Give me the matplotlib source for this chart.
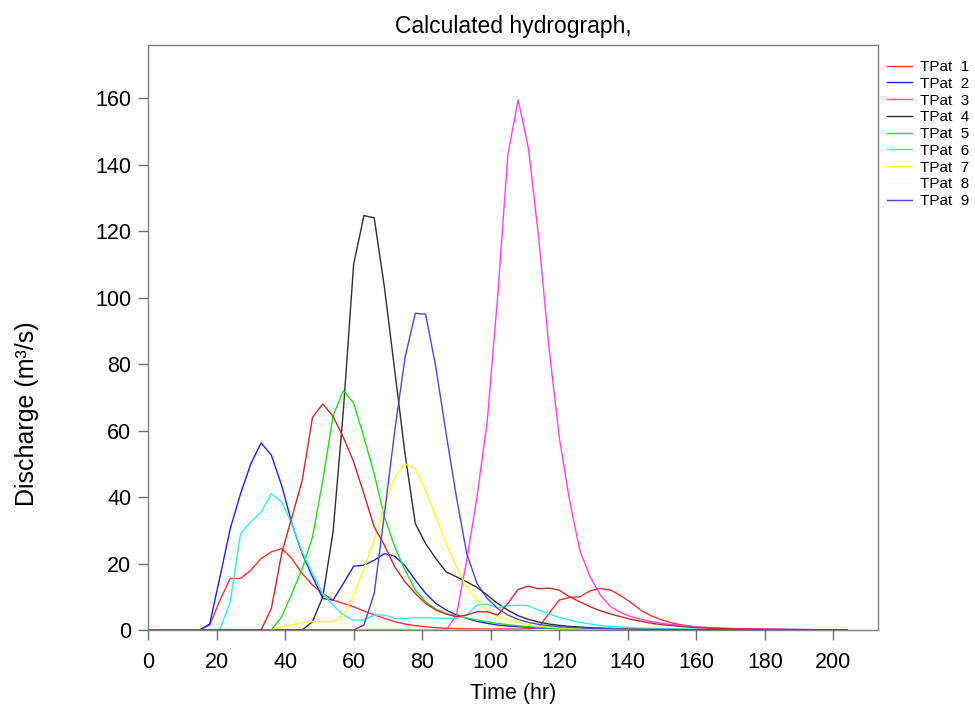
import matplotlib
matplotlib.use("Agg")
import matplotlib.pyplot as plt
import numpy as np

plt.rcParams["font.family"] = ["Liberation Sans", "DejaVu Sans"]

# time axis (hr), 3-hour step
t = np.arange(0, 205, 3)

tpat1 = [0, 0, 0, 0, 0, 0, 1.5, 9, 15.5, 15.5,
         18, 21.5, 23.5, 24.5, 21.5, 17, 13.5, 11, 9, 8,
         7, 5.7, 4.6, 3.5, 2.5, 1.8, 1.3, 1.0, 0.7, 0.5,
         0.4, 0.35, 0.3, 0.3, 0.3, 0.3, 0.3, 0.35, 0.8, 5,
         9, 9.8, 10, 11.8, 12.5, 12, 10.3, 8.2, 5.8, 4.2,
         3, 2.1, 1.5, 1.0, 0.8, 0.6, 0.5, 0.4, 0.35, 0.3,
         0.25, 0.2, 0.2, 0.15, 0.15, 0.1, 0.1, 0.1, 0.1]
tpat2 = [0, 0, 0, 0, 0, 0, 1.8, 16, 30.5, 41,
         50, 56.3, 52.6, 43.5, 32, 23, 16, 9.5, 9, 14,
         19.2, 19.5, 21, 23, 22.2, 19.3, 15, 11, 8, 6,
         4.5, 3.5, 2.6, 2, 1.5, 1.2, 1, 0.8, 0.6, 0.5,
         0.4, 0.35, 0.3, 0.25, 0.2, 0.2, 0.15, 0.15, 0.1, 0.1,
         0.1, 0.1, 0.1, 0.05, 0.05, 0.05, 0.05, 0.05, 0.05, 0.05,
         0.05, 0.05, 0.05, 0.05, 0.05, 0.05, 0.05, 0.05, 0.05]
tpat3 = [0, 0, 0, 0, 0, 0, 0, 0, 0, 0,
         0, 0, 0, 0, 0, 0, 0, 0, 0, 0,
         0, 0, 0, 0, 0, 0, 0, 0, 0, 0,
         4.5, 21, 40, 63, 100, 143, 159.5, 145, 118, 85,
         58, 39, 24, 16, 10.5, 7, 5.2, 4, 3.2, 2.5,
         2, 1.6, 1.3, 1, 0.8, 0.6, 0.5, 0.4, 0.35, 0.3,
         0.25, 0.2, 0.2, 0.15, 0.15, 0.1, 0.1, 0.1, 0.1]
tpat4 = [0, 0, 0, 0, 0, 0, 0, 0, 0, 0,
         0, 0, 0, 0, 0, 0, 2.5, 10, 29.5, 66,
         110, 124.7, 124, 103, 78, 53, 32, 26, 21.5, 17.5,
         16, 14.5, 12.8, 10.5, 8, 6, 4.3, 3.2, 2.4, 1.8,
         1.4, 1.1, 0.9, 0.7, 0.6, 0.5, 0.4, 0.35, 0.3, 0.25,
         0.2, 0.2, 0.15, 0.15, 0.1, 0.1, 0.1, 0.1, 0.05, 0.05,
         0.05, 0.05, 0.05, 0.05, 0.05, 0.05, 0.05, 0.05, 0.05]
tpat5 = [0, 0, 0, 0, 0, 0, 0, 0, 0, 0,
         0, 0, 0, 4, 11, 18.5, 28, 45, 64.5, 72,
         68.3, 58, 47, 34, 25, 18, 12, 8.5, 6.3, 5,
         4.2, 3.6, 3, 2.5, 2, 1.6, 1.3, 1, 0.8, 0.6,
         0.5, 0.4, 0.35, 0.3, 0.25, 0.2, 0.2, 0.15, 0.15, 0.1,
         0.1, 0.1, 0.1, 0.05, 0.05, 0.05, 0.05, 0.05, 0.05, 0.05,
         0.05, 0.05, 0.05, 0.05, 0.05, 0.05, 0.05, 0.05, 0.05]
tpat6 = [0, 0, 0, 0, 0, 0, 0, 0.2, 8.5, 29,
         32.5, 35.5, 41, 38.5, 32, 23.5, 17, 11, 7.5, 4.5,
         3, 3, 4.5, 4.5, 3.5, 3.5, 3.7, 3.7, 3.6, 3.5,
         3.5, 4.5, 7.5, 7.8, 6.7, 7.3, 7.5, 7.3, 6, 4.8,
         3.8, 3, 2.3, 1.8, 1.4, 1.1, 0.9, 0.7, 0.6, 0.5,
         0.4, 0.35, 0.3, 0.25, 0.2, 0.2, 0.15, 0.15, 0.1, 0.1,
         0.1, 0.1, 0.05, 0.05, 0.05, 0.05, 0.05, 0.05, 0.05]
tpat7 = [0, 0, 0, 0, 0, 0, 0, 0, 0, 0,
         0, 0, 0, 1, 1.5, 2.3, 2.5, 2.5, 2.5, 4.3,
         10.5, 18.5, 27, 37.5, 46, 50, 48.5, 42, 34, 26,
         19, 13, 9, 6, 4, 3, 2.2, 1.6, 1.2, 0.9,
         0.7, 0.55, 0.45, 0.35, 0.3, 0.25, 0.2, 0.2, 0.15, 0.15,
         0.1, 0.1, 0.1, 0.1, 0.1, 0.1, 0.1, 0.1, 0.1, 0.1,
         0.05, 0.05, 0.05, 0.05, 0.05, 0.05, 0.05, 0.05, 0.05]
tpat8 = [0] * 69
tpat9 = [0, 0, 0, 0, 0, 0, 0, 0, 0, 0,
         0, 0, 0, 0, 0, 0, 0, 0, 0, 0,
         0, 1.5, 11, 35, 60, 82, 95.3, 95, 79, 59,
         40, 23, 14, 9.5, 6.5, 4.5, 3.2, 2.3, 1.7, 1.3,
         1, 0.8, 0.65, 0.5, 0.4, 0.35, 0.3, 0.25, 0.2, 0.2,
         0.15, 0.15, 0.1, 0.1, 0.1, 0.1, 0.1, 0.1, 0.1, 0.1,
         0.05, 0.05, 0.05, 0.05, 0.05, 0.05, 0.05, 0.05, 0.05]
tpat10 = [0, 0, 0, 0, 0, 0, 0, 0, 0, 0,
          0, 0, 6.5, 23, 34, 45, 64, 68, 64.3, 58,
          50.6, 41, 31, 25.5, 19, 14.5, 11, 8, 6, 4.8,
          4, 4.5, 5.5, 5.5, 4.5, 8, 12.2, 13.2, 12.4, 12.6,
          12, 10, 8.5, 7, 5.8, 4.8, 4, 3.2, 2.6, 2,
          1.6, 1.3, 1, 0.8, 0.6, 0.5, 0.4, 0.35, 0.3, 0.25,
          0.2, 0.2, 0.15, 0.15, 0.1, 0.1, 0.1, 0.1, 0.1]

series = [tpat1, tpat2, tpat3, tpat4, tpat5, tpat6, tpat7, tpat8, tpat9, tpat10]
labels = ["TPat  1", "TPat  2", "TPat  3", "TPat  4", "TPat  5",
          "TPat  6", "TPat  7", "TPat  8", "TPat  9", "_nolegend_"]
colors = ["#ff3030", "#2020ff", "#ff40ff", "#303030", "#20e020",
          "#30f0f0", "#ffff20", "#f8f8f8", "#4848e0", "#d02828"]

fig = plt.figure(figsize=(9.75, 7.09), dpi=100)
ax = fig.add_axes([0.1518, 0.1114, 0.7487, 0.8251])

for y, lab, c in zip(series, labels, colors):
    ax.plot(t, y, color=c, lw=1.0, label=lab, zorder=2)

ax.set_xlim(0, 213)
ax.set_ylim(0, 176)
ax.set_xticks(np.arange(0, 201, 20))
ax.set_yticks(np.arange(0, 161, 20))
ax.tick_params(direction="out", length=7, width=1, color="#707070",
               labelsize=15.5)
ax.tick_params(axis="x", pad=9)
ax.tick_params(axis="y", pad=5)
for s in ax.spines.values():
    s.set_color("#808080")
    s.set_linewidth(1)
    s.set_zorder(1)

ax.set_title("Calculated hydrograph,", fontsize=16.5, pad=9)
ax.set_xlabel("Time (hr)", fontsize=15.5, labelpad=7)
ax.set_ylabel("Discharge (m³/s)", fontsize=18)
ax.yaxis.set_label_coords(-0.15, 0.37)

ax.legend(loc="upper left", bbox_to_anchor=(1.0, 0.99), frameon=False,
          fontsize=11, handlelength=1.6, handletextpad=0.55,
          labelspacing=0.18, borderaxespad=0.2)

fig.savefig("out.png", dpi=100)
